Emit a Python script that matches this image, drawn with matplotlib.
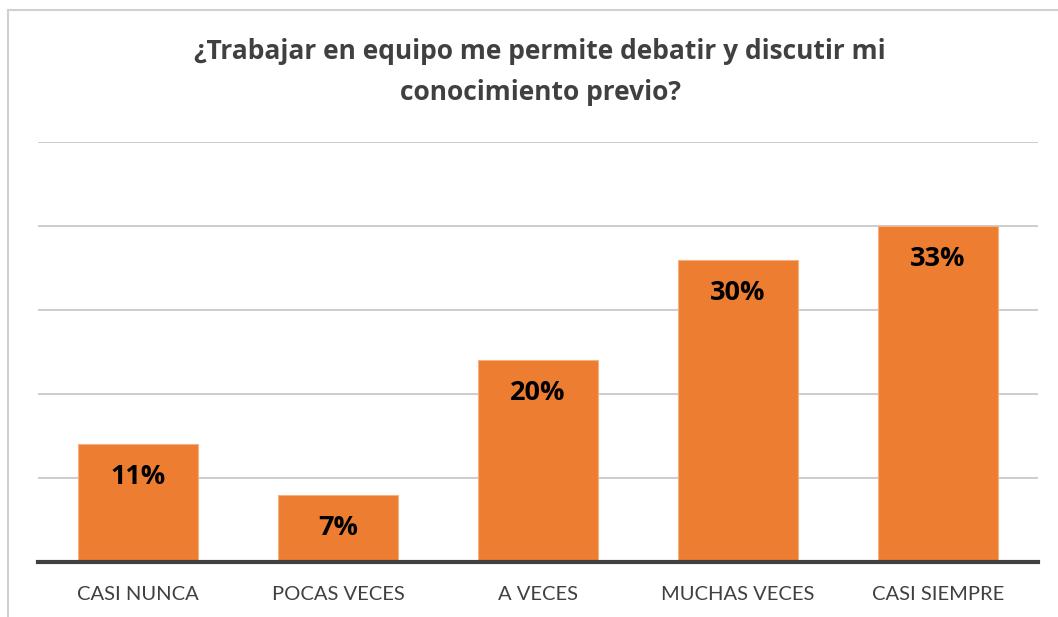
import matplotlib.pyplot as plt
from matplotlib.patches import Rectangle

# Data (counts, N = 61) and the percentage labels shown on the bars
categories = ['CASI NUNCA', 'POCAS VECES', 'A VECES', 'MUCHAS VECES', 'CASI SIEMPRE']
counts = [7, 4, 12, 18, 20]
pct_labels = ['11%', '7%', '20%', '30%', '33%']

BAR_COLOR = '#ED7D31'
TEXT_GRAY = '#404040'

plt.rcParams['font.family'] = ['Lato', 'DejaVu Sans']
BOLD_FONT = ['Open Sans', 'DejaVu Sans']

fig = plt.figure(figsize=(10.58, 6.17), dpi=100)
ax = fig.add_axes([38 / 1058, 55 / 617, 1000 / 1058, 420 / 617])

x = range(len(categories))
bars = ax.bar(x, counts, width=0.6, color=BAR_COLOR, edgecolor='#F4B183', linewidth=0.8, zorder=3)

for bar, lab in zip(bars, pct_labels):
    ax.annotate(lab, (bar.get_x() + bar.get_width() / 2, bar.get_height()),
                xytext=(0, -33), textcoords='offset pixels',
                ha='center', va='center', fontsize=19.5, fontweight='bold',
                family=BOLD_FONT, color='black', zorder=4)

ax.set_xlim(-0.5, len(categories) - 0.5)
ax.set_ylim(0, 25)
ax.set_yticks([5, 10, 15, 20, 25])
ax.yaxis.grid(True, color='#C8C8C8', linewidth=1.3, zorder=0)
ax.tick_params(axis='y', left=False, labelleft=False)
ax.set_xticks(list(x))
ax.set_xticklabels(categories, fontsize=14.5, color=TEXT_GRAY)
ax.tick_params(axis='x', length=0, pad=17)
for side in ['top', 'right', 'left']:
    ax.spines[side].set_visible(False)
ax.spines['bottom'].set_color(TEXT_GRAY)
ax.spines['bottom'].set_linewidth(3)
ax.spines['bottom'].set_zorder(5)

fig.text(540 / 1058, 1 - 72 / 617, '¿Trabajar en equipo me permite debatir y discutir mi\nconocimiento previo?',
         ha='center', va='center', fontsize=19, fontweight='bold', family=BOLD_FONT,
         color=TEXT_GRAY, linespacing=1.7)

# chart frame
fig.patches.append(Rectangle((8 / 1058, -0.1), 1.2, 1 - 10 / 617 + 0.1, transform=fig.transFigure,
                             fill=False, edgecolor='#D0D0D0', linewidth=1.5))

fig.savefig('out.png', dpi=100)
